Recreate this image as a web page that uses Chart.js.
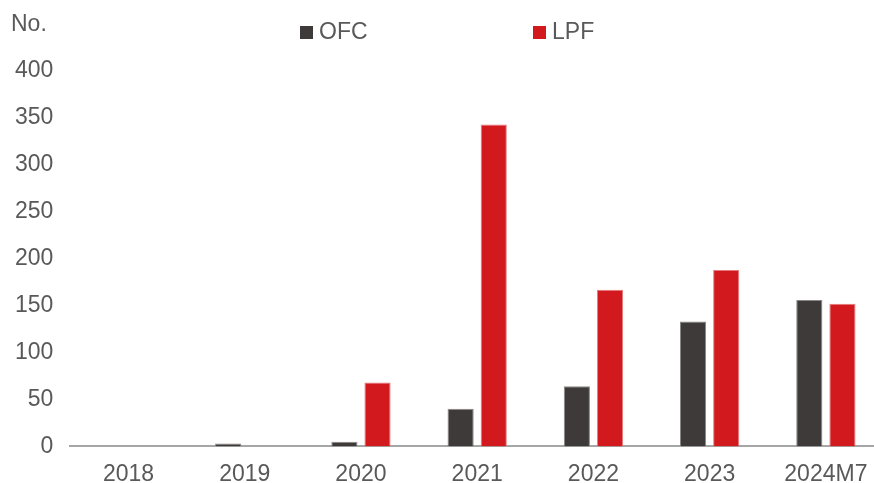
<!DOCTYPE html>
<html>
<head>
<meta charset="utf-8">
<script src="https://cdn.jsdelivr.net/npm/chart.js@4/dist/chart.umd.min.js"></script>
<style>
    html, body { margin: 0; padding: 0; background: #fff; overflow: hidden; }
    #wrap { width: 884px; height: 483px; }
</style>
</head>
<body>
<div id="wrap"><canvas id="chart" width="884" height="483"></canvas></div>
<script>
// data
const categories = ['2018', '2019', '2020', '2021', '2022', '2023', '2024M7'];
const ofcValues = [0, 3, 5, 40, 64, 133, 156];
const lpfValues = [0, 0, 68, 343, 167, 188, 152];
const yTicks = [0, 50, 100, 150, 200, 250, 300, 350, 400];

const FONT = 'Liberation Sans, Arial, sans-serif';
const FONT_SIZE = 23;
const TEXT_COLOR = '#595959';

// draws the "No." unit label and the spaced-out legend
const decorations = {
    id: 'decorations',
    afterDraw(chart) {
        const ctx = chart.ctx;
        ctx.save();
        ctx.font = FONT_SIZE + 'px ' + FONT;
        ctx.fillStyle = TEXT_COLOR;
        ctx.textBaseline = 'middle';
        ctx.textAlign = 'left';
        ctx.fillText('No.', 11, 25);

        const items = [
            { x: 300, ds: chart.data.datasets[0] },
            { x: 533, ds: chart.data.datasets[1] }
        ];
        items.forEach(item => {
            ctx.fillStyle = item.ds.backgroundColor;
            ctx.fillRect(item.x, 26, 13, 13);
            ctx.fillStyle = TEXT_COLOR;
            ctx.fillText(item.ds.label, item.x + 19, 33);
        });
        ctx.restore();
    }
};

new Chart(document.getElementById('chart'), {
    type: 'bar',
    data: {
        labels: categories,
        datasets: [
            {
                label: 'OFC',
                data: ofcValues,
                backgroundColor: '#3e3a39',
                borderColor: '#8a8685',
                borderWidth: 1,
                categoryPercentage: 0.57,
                barPercentage: 0.79
            },
            {
                label: 'LPF',
                data: lpfValues,
                backgroundColor: '#d2191e',
                borderColor: '#e57a7c',
                borderWidth: 1,
                categoryPercentage: 0.57,
                barPercentage: 0.79
            }
        ]
    },
    options: {
        responsive: false,
        animation: false,
        layout: { padding: { top: 71, left: -2, right: 0, bottom: -19 } },
        plugins: {
            legend: { display: false },
            tooltip: { enabled: false }
        },
        scales: {
            x: {
                grid: { display: false, drawTicks: false },
                border: { display: true, color: '#a6a6a6', width: 2 },
                ticks: {
                    color: TEXT_COLOR,
                    font: { family: FONT, size: FONT_SIZE },
                    padding: 14,
                    maxRotation: 0
                }
            },
            y: {
                min: 0,
                max: 400,
                afterBuildTicks: (scale) => {
                    scale.ticks = yTicks.map(v => ({ value: v }));
                },
                grid: { display: false, drawTicks: false },
                border: { display: false },
                ticks: {
                    color: TEXT_COLOR,
                    font: { family: FONT, size: FONT_SIZE },
                    padding: 17
                }
            }
        }
    },
    plugins: [decorations]
});
</script>
</body>
</html>
